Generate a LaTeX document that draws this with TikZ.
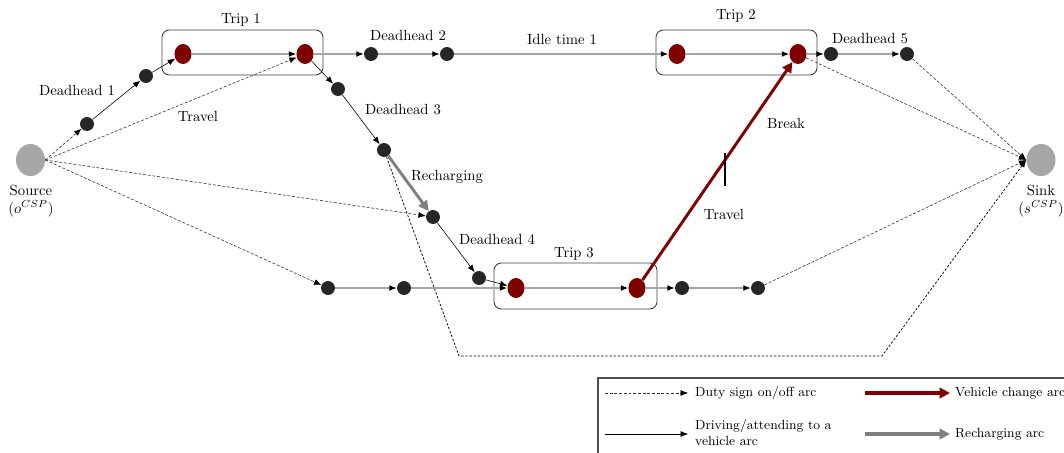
\documentclass[tikz,border=0pt]{standalone}
\usepackage{xcolor}
\usepackage{tikz}
\usepackage{amsmath}
\usetikzlibrary{arrows.meta,shapes.geometric}

\definecolor{tripred}{HTML}{7F0000}
\definecolor{endgray}{HTML}{A6A6A6}
\definecolor{stopblack}{HTML}{262626}

\begin{document}
\begin{tikzpicture}[x=0.68pt,y=-0.68pt,
  endpt/.style={ellipse,fill=endgray,inner sep=0pt,minimum width=19.7pt,minimum height=21.8pt},
  stop/.style={circle,fill=stopblack,inner sep=0pt,minimum size=9.5pt},
  tripstop/.style={ellipse,fill=tripred,inner sep=0pt,minimum width=11.6pt,minimum height=13.6pt},
  tripbox/.style={draw=black!75,rounded corners=5pt,line width=0.6pt},
  drive/.style={draw=black,line width=0.4pt,-{Latex[length=5pt,width=4pt]}},
  run/.style={draw=gray!70,line width=0.8pt,-{Latex[length=5pt,width=4pt,color=black]}},
  signarc/.style={draw=black!80,line width=0.4pt,dash pattern=on 2pt off 1.2pt,-{Latex[length=5pt,width=4pt,color=black]}},
  vchange/.style={draw=tripred,line width=2pt,-{Triangle[length=7pt,width=7pt]}},
  rechg/.style={draw=gray,line width=2pt,-{Triangle[length=7pt,width=7pt]}},
  legtext/.style={anchor=west,font=\fontsize{9}{11}\selectfont}]
\useasboundingbox (0,0) rectangle (1064,452);
\clip (0,0) rectangle (1064,452);

% trip boxes
\draw[tripbox] (162,30) rectangle (323,75);
\draw[tripbox] (656,30) rectangle (817,75);
\draw[tripbox] (494,263) rectangle (657,309);
\node (trip1) at (241,20) {Trip 1};
\node (trip2) at (736,16) {Trip 2};
\node (trip3) at (574,254) {Trip 3};

% source and sink
\node[endpt] (src) at (30.5,160) {};
\node[endpt] (snk) at (1041,160) {};
\node[align=center,anchor=north] (srclbl) at (31,180) {Source\\$(o^{CSP})$};
\node[align=center,anchor=north] (snklbl) at (1041,180) {Sink\\$(s^{CSP})$};

% top row
\node[stop] (d1a) at (87,124) {};
\node[stop] (d1b) at (146,76) {};
\node[tripstop] (t1a) at (183,54) {};
\node[tripstop] (t1b) at (305,54) {};
\node[stop] (d2a) at (371,54) {};
\node[stop] (d2b) at (447,54) {};
\node[tripstop] (t2a) at (677,54) {};
\node[tripstop] (t2b) at (798,54) {};
\node[stop] (d5a) at (831,54) {};
\node[stop] (d5b) at (907,54) {};

% middle
\node[stop] (d3a) at (338,89) {};
\node[stop] (d3b) at (384,150) {};
\node[stop] (r4) at (433,217) {};
\node[stop] (d4) at (479,278) {};

% bottom row
\node[stop] (b1) at (328,288) {};
\node[stop] (b2) at (404,288) {};
\node[tripstop] (t3a) at (516,288) {};
\node[tripstop] (t3b) at (637,288) {};
\node[stop] (b3) at (682,288) {};
\node[stop] (b4) at (758,288) {};

\coordinate (c1) at (459,356);
\coordinate (c2) at (882,356);

% labels
\node (dh1) at (77,90) {Deadhead 1};
\node (trv1) at (198,116) {Travel};
\node (dh2) at (408,35) {Deadhead 2};
\node (idle1) at (562,39) {Idle time 1};
\node (dh5) at (870,39) {Deadhead 5};
\node (dh3) at (403,110) {Deadhead 3};
\node (rlbl) at (447,177) {Recharging};
\node (dh4) at (497,239) {Deadhead 4};
\node (brk) at (786,123) {Break};
\node (trv2) at (724,214) {Travel};

% sign on/off arcs
\draw[signarc] (src.east) -- (d1a);
\draw[signarc] (src.east) -- (t1b);
\draw[signarc] (src.east) -- (r4);
\draw[signarc] (src.east) -- (b1);
\draw[signarc,draw=black,line width=0.5pt,dash pattern=on 1.6pt off 1.2pt] (d3b) -- (c1) -- (c2) -- (snk.west);
\draw[signarc] (t2b) -- (snk.west);
\draw[signarc] (d5b) -- (snk.west);
\draw[signarc] (b4) -- (snk.west);

% driving arcs
\draw[drive] (d1a) -- (d1b);
\draw[drive] (d1b) -- (t1a);
\draw[drive] (t1b) -- (d3a);
\draw[drive] (d3a) -- (d3b);
\draw[drive] (r4) -- (d4);
\draw[drive] (d4) -- (t3a);

\draw[run] (t1a) -- (t1b);
\draw[run] (t1b) -- (d2a);
\draw[run] (d2a) -- (d2b);
\draw[run] (d2b) -- (t2a);
\draw[run] (t2a) -- (t2b);
\draw[run] (t2b) -- (d5a);
\draw[run] (d5a) -- (d5b);
\draw[run] (b1) -- (b2);
\draw[run] (b2) -- (t3a);
\draw[run] (t3a) -- (t3b);
\draw[run] (t3b) -- (b3);
\draw[run] (b3) -- (b4);

% recharging and break
\draw[rechg] (d3b) -- (r4);
\draw[vchange] (t3b) -- (t2b);
\coordinate (tk1) at (725,153);
\coordinate (tk2) at (725,186);
\draw[line width=1pt] (tk1) -- (tk2);

% legend
\draw[draw=black!70,line width=0.8pt] (598,378) rectangle (1100,480);
\coordinate (l1a) at (605,393); \coordinate (l1b) at (688,393);
\coordinate (l2a) at (605,434); \coordinate (l2b) at (688,434);
\coordinate (l3a) at (865,393); \coordinate (l3b) at (950,393);
\coordinate (l4a) at (865,434); \coordinate (l4b) at (950,434);
\draw[signarc] (l1a) -- (l1b);
\draw[drive] (l2a) -- (l2b);
\draw[vchange,line width=2.6pt] (l3a) -- (l3b);
\draw[rechg,line width=2.6pt] (l4a) -- (l4b);
\node[legtext] (leg1) at (690,393) {Duty sign on/off arc};
\node[legtext,align=left] (leg2) at (690,433) {Driving/attending to a\\vehicle arc};
\node[legtext] (leg3) at (950,393) {Vehicle change arc};
\node[legtext] (leg4) at (950,434) {Recharging arc};
\end{tikzpicture}
\end{document}
